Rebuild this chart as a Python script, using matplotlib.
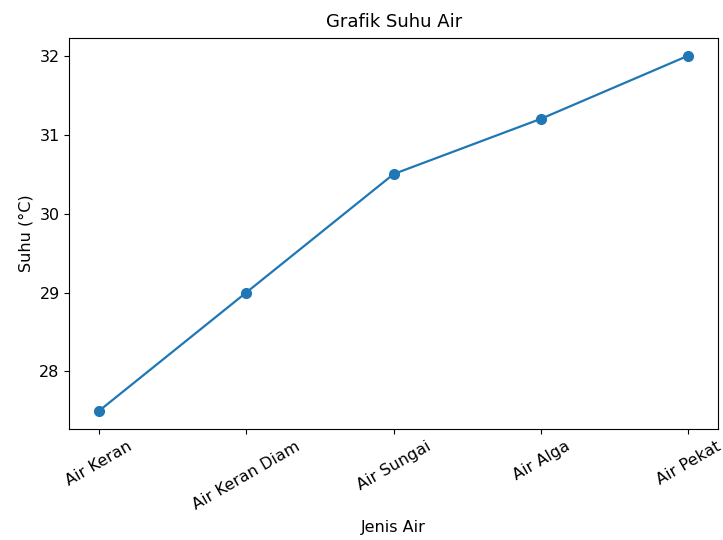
import matplotlib
matplotlib.use("Agg")
import matplotlib.pyplot as plt

jenis_air = ["Air Keran", "Air Keran Diam", "Air Sungai", "Air Alga", "Air Pekat"]
suhu = [27.5, 29.0, 30.5, 31.2, 32.0]

plt.rcParams["font.size"] = 11.5

fig, ax = plt.subplots(figsize=(7.23, 5.4), dpi=100)
ax.plot(jenis_air, suhu, marker="o", markersize=7, linewidth=1.6)
ax.set_title("Grafik Suhu Air", fontsize=13, pad=8)
ax.set_xlabel("Jenis Air", labelpad=6)
ax.set_ylabel("Suhu (°C)")
plt.xticks(rotation=30)
fig.subplots_adjust(left=0.096, right=0.993, top=0.930, bottom=0.206)
plt.savefig("out.png", dpi=100)
